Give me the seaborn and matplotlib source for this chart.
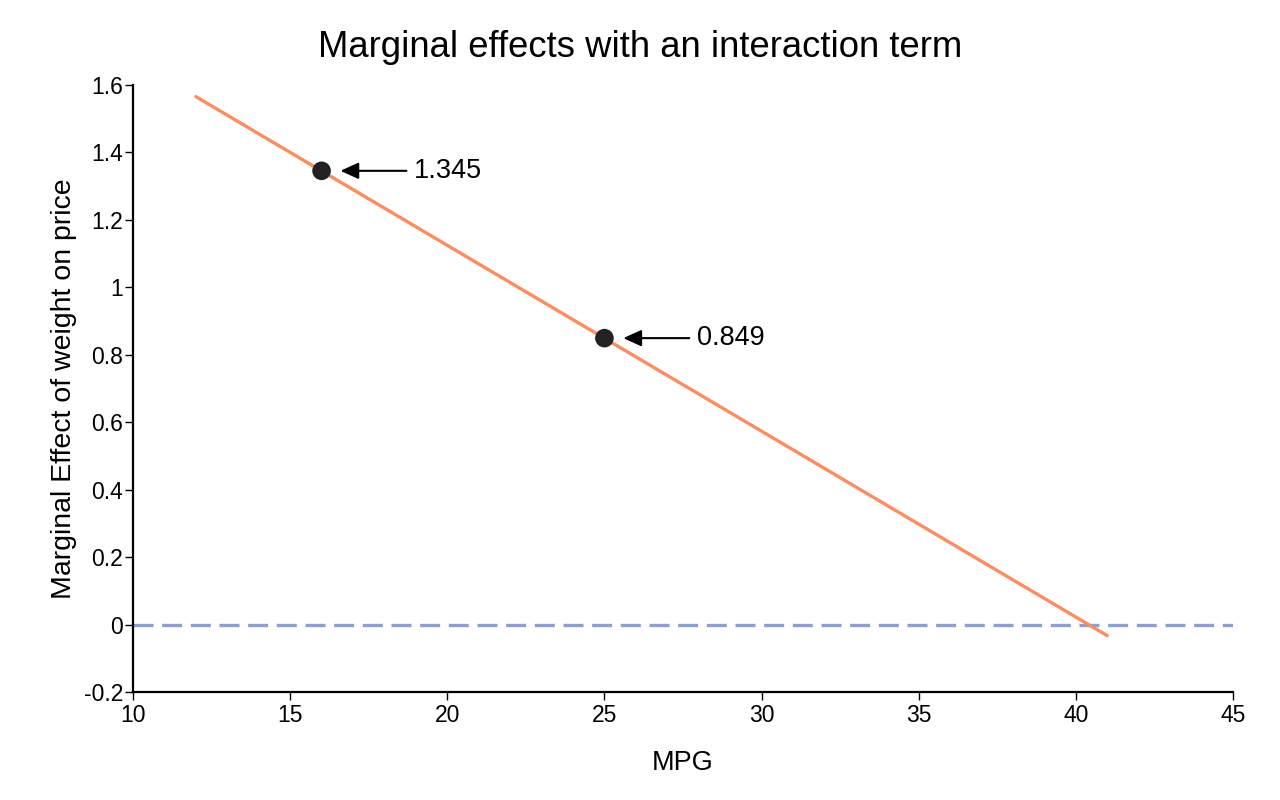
import numpy as np
import pandas as pd
import matplotlib
matplotlib.use("Agg")
import matplotlib.pyplot as plt
import seaborn as sns

# 直線：邊際效應隨 MPG 變化
mpg_line = [12, 41]
effect_line = [1.565, -0.033]

# 標註的兩個點
mpg_pts = [16, 25]
effect_pts = [1.345, 0.849]
pt_labels = ["1.345", "0.849"]

xticks = [10, 15, 20, 25, 30, 35, 40, 45]
yticks = [-0.2, 0, 0.2, 0.4, 0.6, 0.8, 1, 1.2, 1.4, 1.6]

sns.set_style("ticks")
plt.rcParams['font.family'] = ['Liberation Sans', 'DejaVu Sans']
plt.rcParams['text.color'] = 'black'
plt.rcParams['axes.labelcolor'] = 'black'
plt.rcParams['xtick.color'] = 'black'
plt.rcParams['ytick.color'] = 'black'

fig = plt.figure(figsize=(12.8, 8), dpi=100)
ax = fig.add_axes([0.1039, 0.135, 0.8594, 0.759])

df_line = pd.DataFrame({"mpg": mpg_line, "effect": effect_line})
df_pts = pd.DataFrame({"mpg": mpg_pts, "effect": effect_pts})

ax.axhline(0, color="#8da0cb", lw=2.4, dashes=(6, 2.6), zorder=1)
sns.lineplot(data=df_line, x="mpg", y="effect", color="#fc8d62", lw=2.4, ax=ax, zorder=2)
sns.scatterplot(data=df_pts, x="mpg", y="effect", color="#222222", s=180,
                edgecolor="none", ax=ax, zorder=3)

for x, y, lab in zip(mpg_pts, effect_pts, pt_labels):
    ax.annotate("", xy=(x + 0.6, y), xytext=(x + 2.7, y),
                arrowprops=dict(arrowstyle="-|>,head_length=1.1,head_width=0.5",
                                color="black", lw=1.5, shrinkA=0, shrinkB=0))
    ax.text(x + 2.95, y, lab, fontsize=19.5, va="center", ha="left")

ax.set_xlim(10, 45)
ax.set_ylim(-0.2, 1.6)
ax.set_xticks(xticks)
ax.set_yticks(yticks)
ax.set_yticklabels([f"{v:g}" for v in yticks])
ax.tick_params(labelsize=16.5, width=1.0, length=6)
ax.tick_params(axis="y", pad=1)
ax.tick_params(axis="x", pad=3)
for s in ["left", "bottom"]:
    ax.spines[s].set_linewidth(1.6)
    ax.spines[s].set_color("black")
sns.despine(ax=ax)

ax.set_xlabel("MPG", fontsize=19.5, labelpad=16)
ax.set_ylabel("Marginal Effect of weight on price", fontsize=20.5, labelpad=5)
ax.set_title("Marginal effects with an interaction term", fontsize=26.3,
             pad=20, x=0.461)

fig.savefig("out.png", dpi=100)
